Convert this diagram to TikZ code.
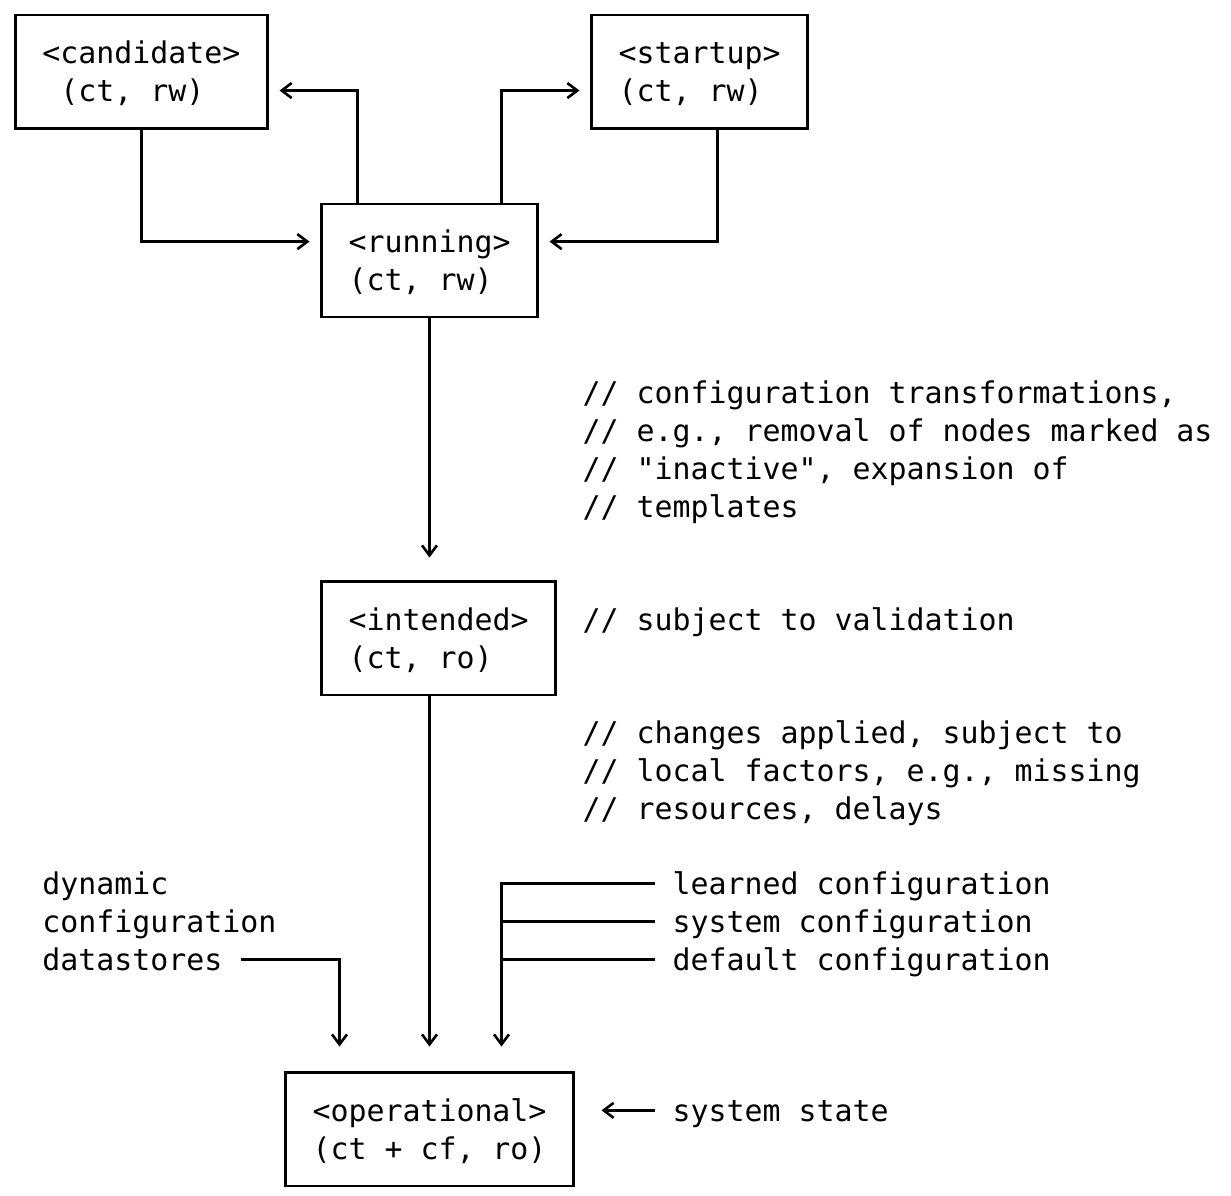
\documentclass[tikz,border=0pt]{standalone}
\usepackage{fontspec}
\setmonofont{DejaVu Sans Mono}
\usetikzlibrary{arrows.meta,calc}
\tikzset{
  box/.style={draw, rectangle, line width=2.6pt, inner sep=0pt, outer sep=0pt, minimum height=113.31pt},
  txt/.style={anchor=base west, yshift=-11pt, inner sep=0pt, outer sep=0pt, font=\ttfamily\fontsize{29.9pt}{37.77pt}\selectfont},
  conn/.style={line width=2.6pt},
  arr/.style={conn, -{Straight Barb[length=10pt,width=15pt]}},
}
\begin{document}
\begin{tikzpicture}[x=18pt, y=-37.77pt]
\useasboundingbox (-0.861,-0.397) rectangle (67.528,31.242);

% boxes
\node[box, minimum width=252pt] (cand) at (7,1.5) {};
\node[box, minimum width=216pt] (start) at (38,1.5) {};
\node[box, minimum width=216pt] (run) at (23,6.5) {};
\node[box, minimum width=234pt] (int) at (23.5,16.5) {};
\node[box, minimum width=288pt] (oper) at (23,29.5) {};

% box texts
\node[txt] (candA) at (1.5,1) {<candidate>};
\node[txt] (candB) at (2.5,2) {(ct, rw)};
\node[txt] (startA) at (33.5,1) {<startup>};
\node[txt] (startB) at (33.5,2) {(ct, rw)};
\node[txt] (runA) at (18.5,6) {<running>};
\node[txt] (runB) at (18.5,7) {(ct, rw)};
\node[txt] (intA) at (18.5,16) {<intended>};
\node[txt] (intB) at (18.5,17) {(ct, ro)};
\node[txt] (operA) at (16.5,29) {<operational>};
\node[txt] (operB) at (16.5,30) {(ct + cf, ro)};

% comments
\node[txt] (c1) at (31.5,10) {// configuration transformations,};
\node[txt] (c2) at (31.5,11) {// e.g., removal of nodes marked as};
\node[txt] (c3) at (31.5,12) {// "inactive", expansion of};
\node[txt] (c4) at (31.5,13) {// templates};
\node[txt] (c5) at (31.5,16) {// subject to validation};
\node[txt] (c6) at (31.5,19) {// changes applied, subject to};
\node[txt] (c7) at (31.5,20) {// local factors, e.g., missing};
\node[txt] (c8) at (31.5,21) {// resources, delays};

% left labels
\node[txt] (dyn) at (1.5,23) {dynamic};
\node[txt] (cfg) at (1.5,24) {configuration};
\node[txt] (ds) at (1.5,25) {datastores};

% right labels
\node[txt] (lc) at (36.5,23) {learned configuration};
\node[txt] (sc) at (36.5,24) {system configuration};
\node[txt] (dc) at (36.5,25) {default configuration};
\node[txt] (ss) at (36.5,29) {system state};

% connectors
\draw[arr, shorten >=12pt] ($(run.north west)+(2,0)$) |- ($(cand.east)+(0,0.5)$);
\draw[arr, shorten >=12pt] ($(run.north east)+(-2,0)$) |- ($(start.west)+(0,0.5)$);
\draw[arr, shorten >=12pt] (cand.south) |- ($(run.west)+(0,-0.5)$);
\draw[arr, shorten >=12pt] ($(start.south)+(1,0)$) |- ($(run.east)+(0,-0.5)$);
\draw[arr, shorten >=24pt] (run.south) -- (run.south |- int.north);
\draw[arr, shorten >=26pt] ($(int.south west)+(6,0)$) -- (oper.north);
\coordinate (j) at ($(oper.north west)+(12,0)$);
\draw[arr, shorten >=26pt] ($([yshift=11pt]ds.base east)+(1.05,0)$) -| ($(oper.north west)+(3,0)$);
\draw[arr, shorten >=26pt] ($([yshift=11pt]lc.base west)+(-0.95,0)$) -| (j);
\draw[conn] ($([yshift=11pt]sc.base west)+(-0.95,0)$) -- ([yshift=11pt]sc.base west -| j);
\draw[conn] ($([yshift=11pt]dc.base west)+(-0.95,0)$) -- ([yshift=11pt]dc.base west -| j);
\draw[arr, shorten >=28pt] ($([yshift=11pt]ss.base west)+(-0.95,0)$) -- ($(oper.east)+(0,-0.5)$);
\end{tikzpicture}
\end{document}
